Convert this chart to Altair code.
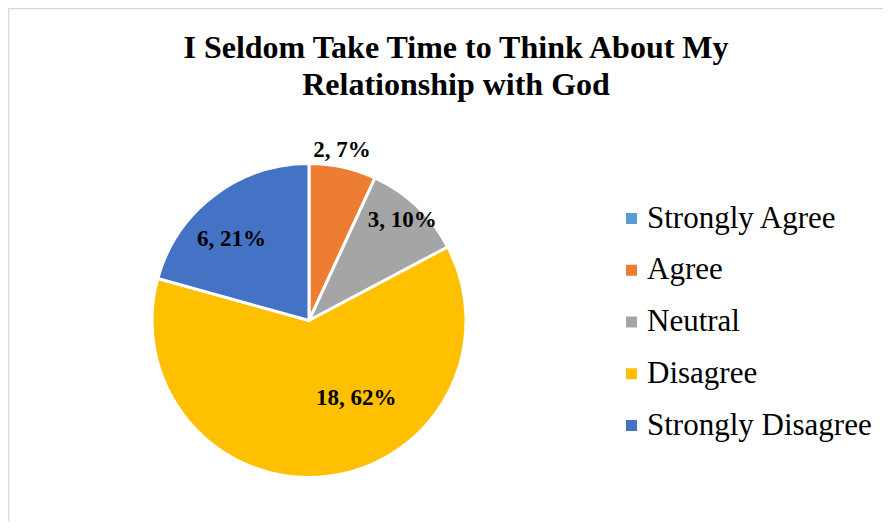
import altair as alt
import pandas as pd

categories = ["Strongly Agree", "Agree", "Neutral", "Disagree", "Strongly Disagree"]
values = [0, 2, 3, 18, 6]
colors = ["#5B9BD5", "#ED7D31", "#A5A5A5", "#FFC000", "#4472C4"]
title_lines = ["I Seldom Take Time to Think About My", "Relationship with God"]

df = pd.DataFrame({"category": categories, "value": values, "idx": list(range(len(categories)))})

W, H = 875, 513
CX, CY, R = 301, 312.5, 157
FONT = "Liberation Serif"

base = alt.Chart(df)

color = alt.Color(
    "category:N",
    scale=alt.Scale(domain=categories, range=colors),
    legend=alt.Legend(
        title=None, orient="none", legendX=603, legendY=195, padding=0,
        symbolType="square", symbolSize=121, symbolStrokeWidth=0, symbolOffset=5,
        labelFont=FONT, labelFontSize=31, labelColor="#000000",
        rowPadding=19.75, labelOffset=0, labelLimit=400,
    ),
)

arcs = base.mark_arc(outerRadius=R, stroke="white", strokeWidth=3).encode(
    x=alt.value(CX), y=alt.value(CY),
    theta=alt.Theta("value:Q", stack=True),
    order=alt.Order("idx:Q"),
    color=color,
)

lab_base = base.transform_joinaggregate(total="sum(value)").transform_window(
    cum="sum(value)", sort=[alt.SortField("idx")], frame=[None, 0]
).transform_calculate(
    mid="2*PI*(datum.cum - datum.value/2)/datum.total",
    label="datum.value + ', ' + round(100*datum.value/datum.total) + '%'",
)

label_cfg = {
    "Agree": (172, -4, -3),
    "Neutral": (137, -1, -1.5),
    "Disagree": (77, 39, 0.5),
    "Strongly Disagree": (110, -11, 6.5),
}

label_layers = []
for cat, (r, dx, dy) in label_cfg.items():
    label_layers.append(
        lab_base.transform_filter(alt.datum.category == cat).mark_text(
            radius=r, dx=dx, dy=dy, font=FONT, fontSize=23, fontWeight="bold",
            color="#000000", align="center", baseline="middle",
        ).encode(
            x=alt.value(CX), y=alt.value(CY),
            theta=alt.Theta("mid:Q", scale=None),
            text="label:N",
        )
    )

title = alt.Chart(alt.Data(values=[{}])).mark_text(
    font=FONT, fontSize=32, fontWeight="bold", color="#000000",
    align="center", baseline="alphabetic", lineHeight=37,
).encode(x=alt.value(448), y=alt.value(50), text=alt.value(title_lines))

frame_left = alt.Chart(alt.Data(values=[{}])).mark_rule(color="#d9d9d9", strokeWidth=1.5).encode(
    x=alt.value(0.5), y=alt.value(0), y2=alt.value(H)
)
frame_top = alt.Chart(alt.Data(values=[{}])).mark_rule(color="#d9d9d9", strokeWidth=1.5).encode(
    y=alt.value(0.5), x=alt.value(0), x2=alt.value(W)
)

chart = alt.layer(arcs, *label_layers, title, frame_left, frame_top).resolve_scale(
    theta="independent"
).properties(
    width=W, height=H, padding=0, autosize=alt.AutoSizeParams(type="none"),
).configure_view(stroke=None)

chart.save("out.html", embed_options={"renderer": "svg", "actions": False})
